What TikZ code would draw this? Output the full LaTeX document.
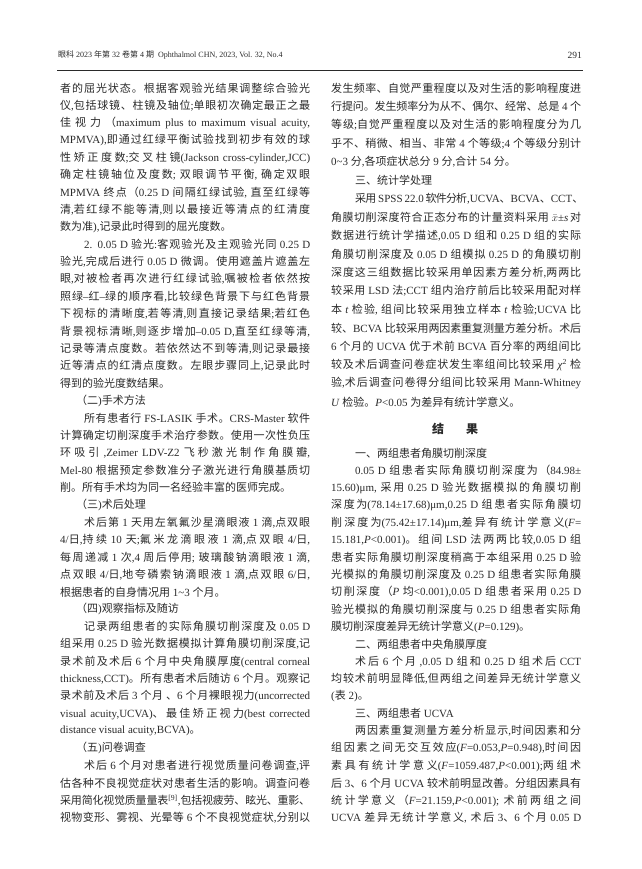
\documentclass[tikz,border=0pt]{standalone}
\usepackage{fontspec}
\setmainfont{Liberation Serif}
\newfontfamily\cjkfont{Noto Sans CJK SC}
\newXeTeXintercharclass\CJKc
\count255="3000
\loop \XeTeXcharclass\count255=\CJKc \advance\count255 1 \ifnum\count255<"A000 \repeat
\count255="FF00
\loop \XeTeXcharclass\count255=\CJKc \advance\count255 1 \ifnum\count255<"FFF0 \repeat
\XeTeXinterchartoks 0 \CJKc = {\cjkfont}
\XeTeXinterchartoks 4095 \CJKc = {\cjkfont}
\XeTeXinterchartoks \CJKc 0 = {\rmfamily}
\XeTeXinterchartoks \CJKc 4095 = {\rmfamily}
\XeTeXinterchartoks \CJKc \CJKc = {\hskip 0pt plus 3pt minus 0.8pt}
\XeTeXinterchartokenstate=1
\definecolor{ink}{HTML}{2A2A2A}
\tikzset{txt/.style={anchor=west,inner sep=0pt,text=ink,font=\fontsize{11}{13}\selectfont}}
\newcommand\Lf[2]{\node[txt] (l#1) at (60,{88+(#1-1)*17.38}) {\hbox to 250pt{#2}};}
\newcommand\Ln[2]{\node[txt] (l#1) at (60,{88+(#1-1)*17.38}) {\hbox{#2}};}
\newcommand\Rf[2]{\node[txt] (r#1) at (331,{88+(#1-1)*18.47}) {\hbox to 250pt{#2}};}
\newcommand\Rn[2]{\node[txt] (r#1) at (331,{88+(#1-1)*18.47}) {\hbox{#2}};}
\newcommand\Sf[2]{\node[txt] (r#1) at (331,{453+(#1-19)*17.38}) {\hbox to 250pt{#2}};}
\newcommand\Sn[2]{\node[txt] (r#1) at (331,{453+(#1-19)*17.38}) {\hbox{#2}};}
\newcommand\ind{\hspace*{24pt}}
\begin{document}
\begin{tikzpicture}[x=1pt,y=-1pt]
\useasboundingbox (0,0) rectangle (641,869);
\fill[white] (0,0) rectangle (641,869);
\node[anchor=west,inner sep=0pt,text=ink,font=\fontsize{8}{10}\selectfont] (hd) at (58,55) {眼科 2023 年第 32 卷第 4 期\ \ Ophthalmol CHN, 2023, Vol. 32, No.4};
\node[anchor=east,inner sep=0pt,text=ink,font=\fontsize{9.5}{11}\selectfont] (pg) at (582,55) {291};
\coordinate (hl) at (57,70); \coordinate (hr) at (583,70);
\draw[ink,line width=0.8pt] (hl) -- (hr);
% left column
\Lf{1}{者的屈光状态。根据客观验光结果调整综合验光}
\Lf{2}{仪,包括球镜、柱镜及轴位;单眼初次确定最正之最}
\Lf{3}{佳视力（maximum plus to maximum visual acuity,}
\Lf{4}{MPMVA),即通过红绿平衡试验找到初步有效的球}
\Lf{5}{性矫正度数;交叉柱镜(Jackson cross-cylinder,JCC)}
\Lf{6}{确定柱镜轴位及度数; 双眼调节平衡, 确定双眼}
\Lf{7}{MPMVA 终点（0.25 D 间隔红绿试验, 直至红绿等}
\Lf{8}{清,若红绿不能等清,则以最接近等清点的红清度}
\Ln{9}{数为准),记录此时得到的屈光度数。}
\Lf{10}{\ind 2. 0.05 D 验光:客观验光及主观验光同 0.25 D}
\Lf{11}{验光,完成后进行 0.05 D 微调。使用遮盖片遮盖左}
\Lf{12}{眼,对被检者再次进行红绿试验,嘱被检者依然按}
\Lf{13}{照绿--红--绿的顺序看,比较绿色背景下与红色背景}
\Lf{14}{下视标的清晰度,若等清,则直接记录结果;若红色}
\Lf{15}{背景视标清晰,则逐步增加--0.05 D,直至红绿等清,}
\Lf{16}{记录等清点度数。若依然达不到等清,则记录最接}
\Lf{17}{近等清点的红清点度数。左眼步骤同上,记录此时}
\Ln{18}{得到的验光度数结果。}
\Ln{19}{\hspace*{16pt}（二)手术方法}
\Lf{20}{\ind 所有患者行 FS-LASIK 手术。CRS-Master 软件}
\Lf{21}{计算确定切削深度手术治疗参数。使用一次性负压}
\Lf{22}{环吸引 ,Zeimer LDV-Z2 飞秒激光制作角膜瓣,}
\Lf{23}{Mel-80 根据预定参数准分子激光进行角膜基质切}
\Ln{24}{削。所有手术均为同一名经验丰富的医师完成。}
\Ln{25}{\hspace*{16pt}（三)术后处理}
\Lf{26}{\ind 术后第 1 天用左氧氟沙星滴眼液 1 滴,点双眼}
\Lf{27}{4/日,持续 10 天;氟米龙滴眼液 1 滴,点双眼 4/日,}
\Lf{28}{每周递减 1 次,4 周后停用; 玻璃酸钠滴眼液 1 滴,}
\Lf{29}{点双眼 4/日,地夸磷索钠滴眼液 1 滴,点双眼 6/日,}
\Ln{30}{根据患者的自身情况用 1\textasciitilde 3 个月。}
\Ln{31}{\hspace*{16pt}（四)观察指标及随访}
\Lf{32}{\ind 记录两组患者的实际角膜切削深度及 0.05 D}
\Lf{33}{组采用 0.25 D 验光数据模拟计算角膜切削深度,记}
\Lf{34}{录术前及术后 6 个月中央角膜厚度(central corneal}
\Lf{35}{thickness,CCT)。所有患者术后随访 6 个月。观察记}
\Lf{36}{录术前及术后 3 个月 、6 个月裸眼视力(uncorrected}
\Lf{37}{visual acuity,UCVA)、最佳矫正视力(best corrected}
\Ln{38}{distance visual acuity,BCVA)。}
\Ln{39}{\hspace*{16pt}（五)问卷调查}
\Lf{40}{\ind 术后 6 个月对患者进行视觉质量问卷调查,评}
\Lf{41}{估各种不良视觉症状对患者生活的影响。调查问卷}
\Lf{42}{采用简化视觉质量量表\textsuperscript{[9]},包括视疲劳、眩光、重影、}
\Lf{43}{视物变形、雾视、光晕等 6 个不良视觉症状,分别以}
% right column
\Rf{1}{发生频率、自觉严重程度以及对生活的影响程度进}
\Rf{2}{行提问。发生频率分为从不、偶尔、经常、总是 4 个}
\Rf{3}{等级;自觉严重程度以及对生活的影响程度分为几}
\Rf{4}{乎不、稍微、相当、非常 4 个等级;4 个等级分别计}
\Rn{5}{0\textasciitilde 3 分,各项症状总分 9 分,合计 54 分。}
\Rn{6}{\ind 三、统计学处理}
\Rf{7}{\ind 采用 SPSS 22.0 软件分析,UCVA、BCVA、CCT、}
\Rf{8}{角膜切削深度符合正态分布的计量资料采用 $\bar{x}$±\textit{s}\,对}
\Rf{9}{数据进行统计学描述,0.05 D 组和 0.25 D 组的实际}
\Rf{10}{角膜切削深度及 0.05 D 组模拟 0.25 D 的角膜切削}
\Rf{11}{深度这三组数据比较采用单因素方差分析,两两比}
\Rf{12}{较采用 LSD 法;CCT 组内治疗前后比较采用配对样}
\Rf{13}{本 \textit{t} 检验, 组间比较采用独立样本 \textit{t} 检验;UCVA 比}
\Rf{14}{较、BCVA 比较采用两因素重复测量方差分析。术后}
\Rf{15}{6 个月的 UCVA 优于术前 BCVA 百分率的两组间比}
\Rf{16}{较及术后调查问卷症状发生率组间比较采用 \textit{χ}\textsuperscript{2} 检}
\Rf{17}{验,术后调查问卷得分组间比较采用 Mann-Whitney}
\Rn{18}{\textit{U} 检验。\textit{P}<0.05 为差异有统计学意义。}
\node[txt,anchor=center,font=\fontsize{12}{14}\selectfont\bfseries] (res) at (455,429) {结\hspace{22pt}果};
\Sn{19}{\ind 一、两组患者角膜切削深度}
\Sf{20}{\ind 0.05 D 组患者实际角膜切削深度为（84.98±}
\Sf{21}{15.60)μm, 采用 0.25 D 验光数据模拟的角膜切削}
\Sf{22}{深度为(78.14±17.68)μm,0.25 D 组患者实际角膜切}
\Sf{23}{削深度为(75.42±17.14)μm,差异有统计学意义(\textit{F}=}
\Sf{24}{15.181,\textit{P}<0.001)。组间 LSD 法两两比较,0.05 D 组}
\Sf{25}{患者实际角膜切削深度稍高于本组采用 0.25 D 验}
\Sf{26}{光模拟的角膜切削深度及 0.25 D 组患者实际角膜}
\Sf{27}{切削深度（\textit{P} 均<0.001),0.05 D 组患者采用 0.25 D}
\Sf{28}{验光模拟的角膜切削深度与 0.25 D 组患者实际角}
\Sn{29}{膜切削深度差异无统计学意义(\textit{P}=0.129)。}
\Sn{30}{\ind 二、两组患者中央角膜厚度}
\Sf{31}{\ind 术后 6 个月 ,0.05 D 组和 0.25 D 组术后 CCT}
\Sf{32}{均较术前明显降低,但两组之间差异无统计学意义}
\Sn{33}{(表 2)。}
\Sn{34}{\ind 三、两组患者 UCVA}
\Sf{35}{\ind 两因素重复测量方差分析显示,时间因素和分}
\Sf{36}{组因素之间无交互效应(\textit{F}=0.053,\textit{P}=0.948),时间因}
\Sf{37}{素具有统计学意义(\textit{F}=1059.487,\textit{P}<0.001);两组术}
\Sf{38}{后 3、6 个月 UCVA 较术前明显改善。分组因素具有}
\Sf{39}{统计学意义（\textit{F}=21.159,\textit{P}<0.001); 术前两组之间}
\Sf{40}{UCVA 差异无统计学意义, 术后 3、6 个月 0.05 D}
\end{tikzpicture}
\end{document}
